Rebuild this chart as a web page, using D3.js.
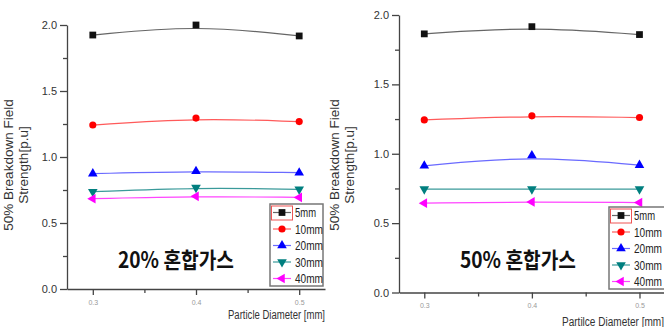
<!DOCTYPE html>
<html>
<head>
<meta charset="utf-8">
<script src="https://cdn.jsdelivr.net/npm/d3@7"></script>
<style>
  body { margin: 0; background: #fff; }
  svg { display: block; }
  .axis path, .axis line { stroke: #444; stroke-width: 1.3; }
  .axis text { font-family: "Liberation Sans", Arial, sans-serif; fill: #333; }
</style>
</head>
<body>
<div id="vis"></div>
<script>

// x values (particle diameter, mm)
var diameters = [0.3, 0.4, 0.5];
var seriesNames = ['5mm', '10mm', '20mm', '30mm', '40mm'];
var yTicks = [0, 0.5, 1.0, 1.5, 2.0];
var yMinorTicks = [0.25, 0.75, 1.25, 1.75];
var xTicks = [0.3, 0.4, 0.5];
var xMinorTicks = [0.35, 0.45];

// 20% mixture, one row per gap length
var mix20 = [
    [1.924, 2.000, 1.917],
    [1.242, 1.295, 1.268],
    [0.874, 0.892, 0.881],
    [0.737, 0.768, 0.755],
    [0.684, 0.702, 0.694]
];

// 50% mixture
var mix50 = [
    [1.864, 1.916, 1.859],
    [1.244, 1.273, 1.261],
    [0.913, 0.987, 0.918],
    [0.745, 0.745, 0.745],
    [0.644, 0.653, 0.648]
];

var lineColors = ['#666', '#ff5a5a', '#6a6aff', '#3a9a9a', '#ff44ff'];
var markColors = ['#111', '#f00', '#00f', '#007f7f', '#f0f'];

var svg = d3.select('#vis').append('svg')
    .attr('width', 664)
    .attr('height', 327);

function marker(i) {
    // square, circle, triangle up, down, left
    var types = [d3.symbolSquare, d3.symbolCircle, d3.symbolTriangle, d3.symbolTriangle, d3.symbolTriangle];
    var sizes = [46, 40, 40, 40, 40];
    return d3.symbol().type(types[i]).size(sizes[i])();
}
var markRotate = [0, 0, 0, 180, -90];

function drawPanel(p) {
    var g = svg.append('g');

    var x = d3.scaleLinear().domain(p.xDomain).range(p.xRange);
    var y = d3.scaleLinear().domain([0, 2]).range([p.y0, p.y2]);

    // minor ticks first
    g.append('g').attr('class', 'axis')
        .attr('transform', 'translate(' + p.xRange[0] + ',0)')
        .call(d3.axisLeft(y).tickValues(yMinorTicks).tickSize(4).tickSizeOuter(0).tickFormat(''))
        .select('.domain').remove();
    g.append('g').attr('class', 'axis')
        .attr('transform', 'translate(0,' + p.y0 + ')')
        .call(d3.axisBottom(x).tickValues(xMinorTicks).tickSize(4).tickSizeOuter(0).tickFormat(''))
        .select('.domain').remove();

    var yAx = g.append('g').attr('class', 'axis')
        .attr('transform', 'translate(' + p.xRange[0] + ',0)')
        .call(d3.axisLeft(y).tickValues(yTicks).tickSize(7).tickSizeOuter(0).tickPadding(3)
            .tickFormat(d3.format('.1f')));
    yAx.selectAll('text').style('font-size', '11px');

    var xAx = g.append('g').attr('class', 'axis')
        .attr('transform', 'translate(0,' + p.y0 + ')')
        .call(d3.axisBottom(x).tickValues(xTicks).tickSize(6).tickSizeOuter(0).tickPadding(5)
            .tickFormat(d3.format('.1f')));
    xAx.selectAll('text').style('font-size', '7px').style('fill', '#999');

    // axis titles
    var yl = g.append('text')
        .attr('transform', 'translate(' + p.yLabelX + ',165) rotate(-90)')
        .attr('text-anchor', 'middle')
        .style('font-family', '"Liberation Sans", Arial, sans-serif')
        .style('font-size', '13.5px')
        .style('fill', '#333');
    yl.append('tspan').attr('x', 0).attr('dy', 0).text('50% Breakdown Field');
    yl.append('tspan').attr('x', 0).attr('dy', 15).text('Strength[p.u]');

    g.append('text')
        .attr('x', p.xTitleX)
        .attr('y', p.xTitleY)
        .attr('textLength', p.xTitleW)
        .attr('lengthAdjust', 'spacingAndGlyphs')
        .style('font-family', '"Liberation Sans", Arial, sans-serif')
        .style('font-size', '12.5px')
        .style('fill', '#333')
        .text(p.xTitle);

    // curves
    var line = d3.line()
        .x(function (d, i) { return x(diameters[i]); })
        .y(function (d) { return y(d); })
        .curve(d3.curveBasis);

    p.values.forEach(function (vals, s) {
        g.append('path')
            .attr('d', line(vals))
            .attr('fill', 'none')
            .attr('stroke', lineColors[s])
            .attr('stroke-width', 1.2);

        g.selectAll('.m' + s)
            .data(vals)
            .enter().append('path')
            .attr('d', marker(s))
            .attr('transform', function (d, i) {
                return 'translate(' + x(diameters[i]) + ',' + y(d) + ') rotate(' + markRotate[s] + ')';
            })
            .attr('fill', markColors[s]);
    });

    // legend
    var lg = g.append('g').attr('transform', 'translate(' + p.legX + ',' + p.legY + ')');
    lg.append('rect')
        .attr('width', p.legW).attr('height', 82)
        .attr('fill', '#fff')
        .attr('stroke', '#777')
        .attr('stroke-width', 1.5);
    lg.append('rect')
        .attr('x', 1.5).attr('y', 2)
        .attr('width', 21).attr('height', 14)
        .attr('fill', 'none')
        .attr('stroke', '#e55')
        .attr('stroke-width', 1);

    seriesNames.forEach(function (name, s) {
        var ry = 8.5 + s * 16.5;
        lg.append('line')
            .attr('x1', 3).attr('x2', 21)
            .attr('y1', ry).attr('y2', ry)
            .attr('stroke', lineColors[s])
            .attr('stroke-width', 1.2);
        lg.append('path')
            .attr('d', marker(s))
            .attr('transform', 'translate(12,' + ry + ') rotate(' + markRotate[s] + ')')
            .attr('fill', markColors[s]);
        lg.append('text')
            .attr('x', 25)
            .attr('y', ry + 4.5)
            .attr('textLength', name.length * 7)
            .attr('lengthAdjust', 'spacingAndGlyphs')
            .style('font-family', '"Liberation Sans", Arial, sans-serif')
            .style('font-size', '13px')
            .style('fill', '#222')
            .text(name);
    });

    // mixture label
    g.append('text')
        .attr('x', p.tagX)
        .attr('y', 268)
        .attr('text-anchor', 'middle')
        .attr('textLength', 116)
        .attr('lengthAdjust', 'spacingAndGlyphs')
        .style('font-family', '"Noto Sans CJK KR", sans-serif')
        .style('font-weight', 'bold')
        .style('font-size', '22px')
        .style('fill', '#111')
        .text(p.tag);
}

drawPanel({
    values: mix20,
    xDomain: [0.275, 0.525], xRange: [67, 325],
    y0: 289, y2: 25,
    yLabelX: 13,
    xTitle: 'Particle Diameter [mm]', xTitleX: 228, xTitleY: 319, xTitleW: 97,
    legX: 270, legY: 204, legW: 53,
    tag: '20% 혼합가스', tagX: 176
});

drawPanel({
    values: mix50,
    xDomain: [0.2765, 0.5265], xRange: [399, 668],
    y0: 292.5, y2: 15,
    yLabelX: 339,
    xTitle: 'Partilce Diameter [mm]', xTitleX: 562, xTitleY: 326, xTitleW: 102,
    legX: 609, legY: 207, legW: 62,
    tag: '50% 혼합가스', tagX: 518
});

</script>
</body>
</html>
